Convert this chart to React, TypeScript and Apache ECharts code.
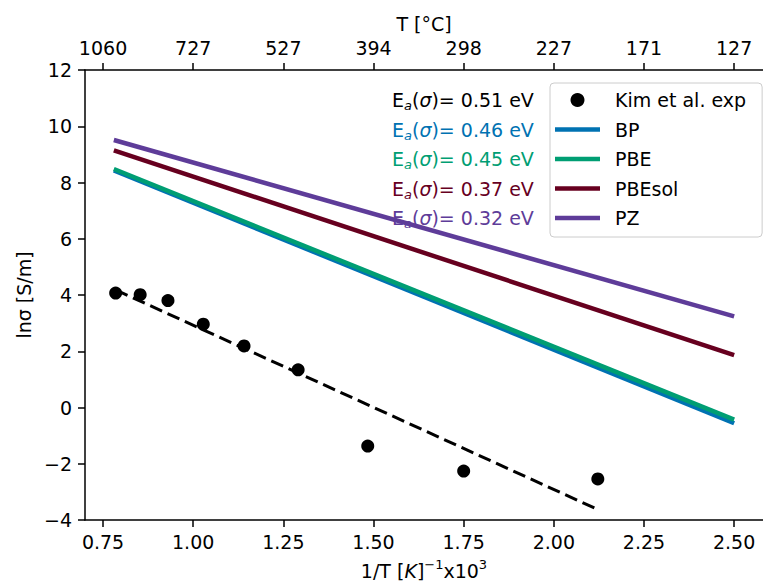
import React, { useEffect, useRef } from "react";
import * as echarts from "echarts";

// ---- data ----
const bottomTicks = [0.75, 1.0, 1.25, 1.5, 1.75, 2.0, 2.25, 2.5];
const topTickLabels = ["1060", "727", "527", "394", "298", "227", "171", "127"];

const kimX = [0.785, 0.853, 0.93, 1.028, 1.141, 1.291, 1.484, 1.75, 2.122];
const kimY = [4.07, 4.01, 3.8, 2.96, 2.19, 1.34, -1.37, -2.26, -2.54];

const fitX = [0.785, 2.124];
const fitY = [4.18, -3.64];

const lineX = [0.78, 2.5];
const bpY = [8.43, -0.56];
const pbeY = [8.48, -0.43];
const pbesolY = [9.14, 1.86];
const pzY = [9.51, 3.24];

const lineNames = ["BP", "PBE", "PBEsol", "PZ"];
const lineYs = [bpY, pbeY, pbesolY, pzY];
const lineColors = ["#0072B2", "#009E73", "#67001F", "#5E3C99"];

const expName = "Kim et al. exp";
const eaValues = ["0.51", "0.46", "0.45", "0.37", "0.32"];
const eaColors = ["#000000", "#0072B2", "#009E73", "#67001F", "#5E3C99"];

const FONT = "DejaVu Sans";

export default function App() {
  const ref = useRef<HTMLDivElement>(null);
  useEffect(() => {
    if (!ref.current) return;
    const chart = echarts.init(ref.current, null, { renderer: "svg" });

    const zip = (xs: number[], ys: number[]) => xs.map((x, i) => [x, ys[i]]);

    const series: any[] = [
      {
        name: "fit",
        type: "line",
        data: zip(fitX, fitY),
        symbol: "none",
        lineStyle: { color: "#000", width: 3, type: [13, 6] },
        z: 2,
      },
      {
        name: expName,
        type: "scatter",
        data: zip(kimX, kimY),
        symbol: "circle",
        symbolSize: 13,
        itemStyle: { color: "#000", opacity: 1 },
        z: 3,
      },
      ...lineNames.map((n, i) => ({
        name: n,
        type: "line",
        data: zip(lineX, lineYs[i]),
        symbol: "none",
        itemStyle: { color: lineColors[i] },
        lineStyle: { color: lineColors[i], width: 4.5 },
        z: 4 + i,
      })),
    ];

    const rowY = [100, 129.5, 159, 188.5, 218];
    const graphics = eaValues.map((v, i) => ({
      type: "text",
      left: 392,
      top: rowY[i] - 12,
      z: 10,
      style: {
        text: `E{sub|a}({sg|σ})= ${v} eV`,
        fill: eaColors[i],
        font: `19px '${FONT}'`,
        rich: {
          sub: { fontSize: 13, fontStyle: "italic", fill: eaColors[i], verticalAlign: "bottom", lineHeight: 24, fontFamily: FONT },
          sg: { fontSize: 19, fontStyle: "italic", fill: eaColors[i], lineHeight: 24, fontFamily: FONT },
        },
        lineHeight: 24,
      },
    }));

    const axisCommon = {
      axisLine: { show: true, onZero: false, lineStyle: { color: "#000", width: 1.5 } },
      axisTick: { show: true, length: 7, lineStyle: { color: "#000", width: 1.5 } },
      splitLine: { show: false },
    };

    const lineIcon = "path://M0,0H45V4.5H0Z";

    const option: any = {
      animation: false,
      backgroundColor: "#fff",
      textStyle: { fontFamily: FONT },
      grid: { left: 85, right: 0, top: 70, bottom: 65, outerBoundsMode: "none", containLabel: false },
      legend: {
        data: [
          { name: expName, icon: "circle" },
          ...lineNames.map((n) => ({ name: n, icon: lineIcon })),
        ],
        orient: "vertical",
        left: 550,
        top: 83,
        padding: [6, 16, 8, 5],
        itemGap: 7.5,
        itemWidth: 45,
        itemHeight: 14,
        symbolKeepAspect: true,
        backgroundColor: "rgba(255,255,255,0.85)",
        borderColor: "#cccccc",
        borderWidth: 1,
        borderRadius: 4,
        textStyle: { fontSize: 19, color: "#000", fontFamily: FONT, padding: [0, 0, 0, 10], lineHeight: 22 },
        z: 20,
      },
      xAxis: [
        {
          type: "value",
          position: "bottom",
          min: 0.7,
          max: 2.58,
          ...axisCommon,
          axisTick: { ...axisCommon.axisTick, customValues: bottomTicks },
          axisLabel: {
            customValues: bottomTicks,
            formatter: (v: number) => v.toFixed(2),
            fontSize: 19,
            color: "#000",
            margin: 12,
            fontFamily: FONT,
          },
          name: "1/T [{it|K}]{sup|−1}x10{sup|3}",
          nameLocation: "middle",
          nameGap: 38,
          nameTextStyle: {
            fontSize: 19,
            color: "#000",
            fontFamily: FONT,
            lineHeight: 26,
            rich: {
              it: { fontSize: 19, fontStyle: "italic", fontFamily: FONT, lineHeight: 26 },
              sup: { fontSize: 13, verticalAlign: "top", lineHeight: 13, fontFamily: FONT },
            },
          },
        },
        {
          type: "value",
          position: "top",
          min: 0.7,
          max: 2.58,
          ...axisCommon,
          axisTick: { ...axisCommon.axisTick, customValues: bottomTicks },
          axisLabel: {
            customValues: bottomTicks,
            formatter: (v: number) => {
              let idx = 0;
              let best = Infinity;
              bottomTicks.forEach((t, i) => {
                const d = Math.abs(t - v);
                if (d < best) { best = d; idx = i; }
              });
              return topTickLabels[idx];
            },
            fontSize: 19,
            color: "#000",
            margin: 13,
            fontFamily: FONT,
          },
          name: "T [°C]",
          nameLocation: "middle",
          nameGap: 37,
          nameTextStyle: { fontSize: 19, color: "#000", fontFamily: FONT },
        },
      ],
      yAxis: {
        type: "value",
        min: -4,
        max: 12,
        interval: 2,
        ...axisCommon,
        axisLabel: { fontSize: 19, color: "#000", margin: 13, fontFamily: FONT, formatter: (v: number) => (v < 0 ? "−" + Math.abs(v) : String(v)) },
        name: "lnσ [S/m]",
        nameLocation: "middle",
        nameGap: 52,
        nameTextStyle: { fontSize: 19, color: "#000", fontFamily: FONT },
      },
      series,
      graphic: graphics,
    };

    chart.setOption(option);
    return () => chart.dispose();
  }, []);

  return (
    <div
      ref={ref}
      style={{ position: "absolute", left: 0, top: 0, width: 763, height: 585, background: "#fff" }}
    />
  );
}
